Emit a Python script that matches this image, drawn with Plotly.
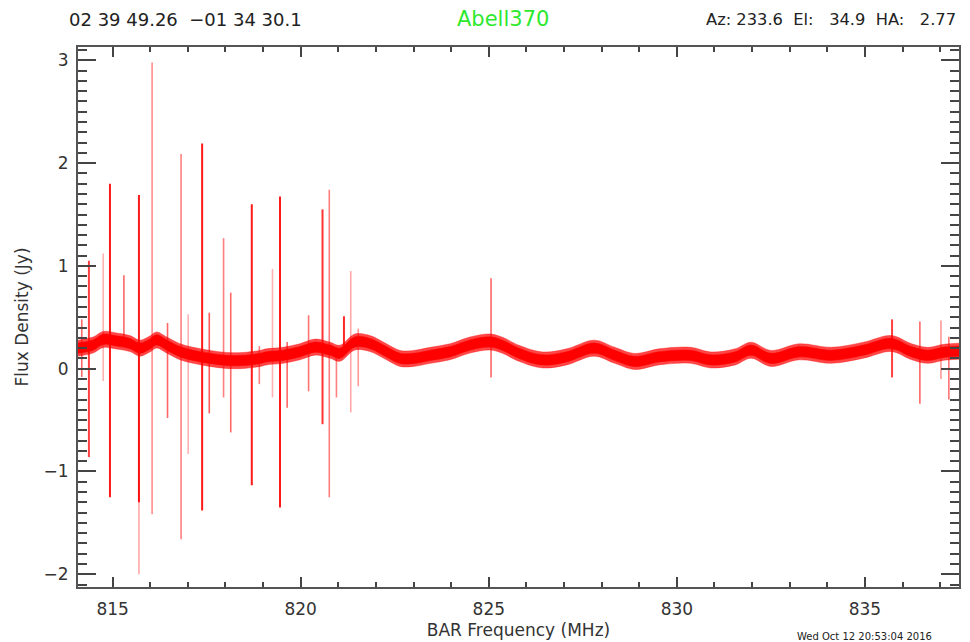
import plotly.graph_objects as go

# ---- data ----
band_freq = [814.08, 814.48, 814.75, 815.10, 815.46, 815.73, 815.99, 816.17, 816.44, 816.79,
             817.14, 817.59, 818.03, 818.47, 818.92, 819.09, 819.53, 819.98, 820.38, 820.78,
             821.04, 821.44, 821.84, 822.28, 822.64, 823.00, 823.45, 823.97, 824.50, 825.03,
             825.35, 825.80, 826.43, 827.07, 827.80, 828.35, 828.88, 829.52, 830.37, 830.90,
             831.55, 831.97, 832.50, 833.26, 834.10, 834.96, 835.70, 836.24, 836.67, 837.10,
             837.50]
band_flux = [0.20, 0.23, 0.285, 0.27, 0.245, 0.20, 0.24, 0.28, 0.23, 0.165,
             0.13, 0.10, 0.08, 0.08, 0.10, 0.115, 0.13, 0.165, 0.21, 0.18,
             0.15, 0.26, 0.245, 0.165, 0.10, 0.10, 0.13, 0.165, 0.23, 0.26,
             0.23, 0.15, 0.085, 0.115, 0.20, 0.13, 0.07, 0.115, 0.13, 0.085,
             0.115, 0.18, 0.10, 0.165, 0.13, 0.18, 0.245, 0.165, 0.13, 0.16,
             0.17]
band_core_halfwidth = 0.05
band_noise_halfwidth = 0.078

spike_freq = [814.18, 814.37, 814.75, 814.93, 815.30, 815.70, 815.70, 816.05, 816.46, 816.82,
              817.01, 817.38, 817.57, 817.95, 818.14, 818.70, 818.90, 819.25, 819.45, 819.64,
              820.21, 820.58, 820.76, 820.95, 821.15, 821.33, 821.53, 825.06, 835.72, 836.46,
              837.02, 837.23]
spike_low = [-0.08, -0.86, -0.12, -1.25, 0.25, -1.30, -2.00, -1.415, -0.48, -1.66,
             -0.83, -1.38, -0.435, -0.28, -0.62, -1.135, -0.15, -0.28, -1.35, -0.38,
             -0.22, -0.54, -1.25, -0.28, 0.15, -0.425, -0.17, -0.085, -0.085, -0.34,
             -0.10, -0.30]
spike_high = [0.48, 1.05, 1.12, 1.80, 0.91, 1.69, 0.20, 2.98, 0.445, 2.09,
              0.53, 2.19, 0.545, 1.27, 0.74, 1.60, 0.22, 0.97, 1.675, 0.26,
              0.52, 1.55, 1.74, 0.18, 0.51, 0.95, 0.39, 0.88, 0.48, 0.46,
              0.47, 0.31]
spike_alpha = [0.6, 0.75, 0.3, 0.9, 0.6, 0.9, 0.35, 0.45, 0.6, 0.5,
               0.3, 0.9, 0.65, 0.5, 0.6, 0.9, 0.5, 0.3, 0.9, 0.6,
               0.55, 0.8, 0.5, 0.5, 0.85, 0.35, 0.4, 0.6, 0.75, 0.6,
               0.4, 0.55]

x_range = [814.08, 837.5]
y_range = [-2.124, 3.13]

FONT = "DejaVu Sans, Liberation Sans, Arial, sans-serif"

fig = go.Figure()

# spikes
for f, lo, hi, a in zip(spike_freq, spike_low, spike_high, spike_alpha):
    fig.add_trace(go.Scatter(
        x=[f, f], y=[lo, hi], mode="lines",
        line=dict(color=f"rgba(255,0,0,{a})", width=2 if a >= 0.75 else 1.6),
        hoverinfo="skip", showlegend=False))

# noisy baseline band: translucent noise envelope + solid core
for hw, col in [(band_noise_halfwidth, "rgba(255,0,0,0.72)"), (band_core_halfwidth, "#ff0000")]:
    lower = [v - hw for v in band_flux]
    upper = [v + hw for v in band_flux]
    fig.add_trace(go.Scatter(x=band_freq, y=lower, mode="lines",
                             line=dict(color=col, width=0.5, shape="spline"),
                             hoverinfo="skip", showlegend=False))
    fig.add_trace(go.Scatter(x=band_freq, y=upper, mode="lines", fill="tonexty",
                             fillcolor=col, line=dict(color=col, width=0.5, shape="spline"),
                             hoverinfo="skip", showlegend=False))

axis_common = dict(
    showline=True, linecolor="#555555", linewidth=2, mirror="allticks",
    ticks="inside", tickcolor="#444444", tickwidth=2,
    showgrid=False, zeroline=False, automargin=False,
    tickfont=dict(family=FONT, size=17, color="#333333"),
)

fig.update_layout(
    width=962, height=634,
    margin=dict(l=70, r=11, t=39, b=55),
    paper_bgcolor="white", plot_bgcolor="white",
    xaxis=dict(
        range=x_range, tick0=815, dtick=5, ticklen=10,
        minor=dict(dtick=1, tick0=815, ticklen=5, tickwidth=1.5,
                   tickcolor="#444444", ticks="inside"),
        ticklabelstandoff=6,
        title=dict(text="BAR Frequency (MHz)", standoff=6,
                   font=dict(family=FONT, size=17, color="#333333")),
        **axis_common),
    yaxis=dict(
        range=y_range, tick0=0, dtick=1, ticklen=18,
        minor=dict(dtick=0.1, tick0=0, ticklen=9, tickwidth=1.5,
                   tickcolor="#444444", ticks="inside"),
        title=dict(text="Flux Density (Jy)", standoff=11,
                   font=dict(family=FONT, size=17, color="#333333")),
        ticklabelstandoff=4,
        **axis_common),
    annotations=[
        dict(text="02 39 49.26  \u221201 34 30.1", xref="paper", yref="paper",
             x=(67 - 78) / 881, y=(587 - 19) / 540, xanchor="left", yanchor="middle",
             showarrow=False, height=18,
             font=dict(family=FONT, size=18, color="#222222")),
        dict(text="Abell370", xref="paper", yref="paper",
             x=(503 - 78) / 881, y=(587 - 19) / 540, xanchor="center", yanchor="middle",
             showarrow=False, height=20,
             font=dict(family=FONT, size=21, color="#2ee82e")),
        dict(text="Az: 233.6  El:   34.9  HA:   2.77", xref="paper", yref="paper",
             x=(958 - 78) / 881, y=(587 - 19) / 540, xanchor="right", yanchor="middle",
             showarrow=False, height=18,
             font=dict(family=FONT, size=16.3, color="#222222")),
        dict(text="Wed Oct 12 20:53:04 2016", xref="paper", yref="paper",
             x=(795 - 78) / 881, y=(587 - 629) / 540, xanchor="left", yanchor="top", showarrow=False,
             font=dict(family=FONT, size=10, color="#222222")),
    ],
)

fig.write_html("out.html")
